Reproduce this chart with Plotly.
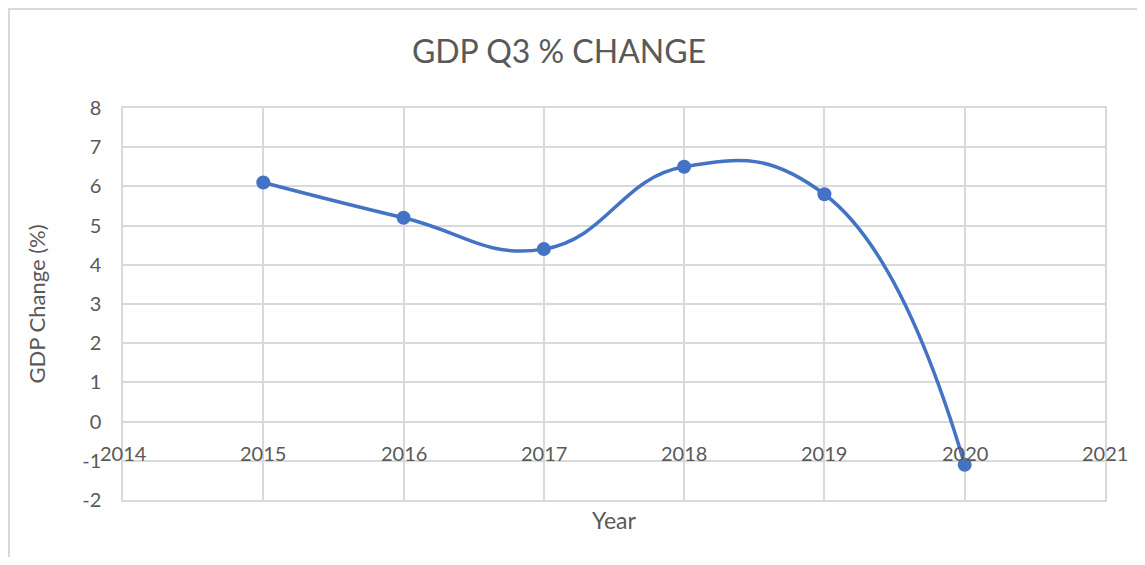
import plotly.graph_objects as go

years = [2015, 2016, 2017, 2018, 2019, 2020]
gdp_change = [6.1, 5.2, 4.4, 6.5, 5.8, -1.1]
x_ticks = [2014, 2015, 2016, 2017, 2018, 2019, 2020, 2021]
y_ticks = [-2, -1, 0, 1, 2, 3, 4, 5, 6, 7, 8]
y_labels = [str(v) for v in y_ticks]

FONT = "Lato"
TXT = "#595959"
GRID = "#d9d9d9"

# page body has an 8px margin; figure sized to fit the window
W, H = 1129, 549
L, T, PW, PH = 115, 100, 982, 392

fig = go.Figure()
fig.add_trace(go.Scatter(
    x=years, y=gdp_change, mode="lines+markers",
    line=dict(color="#4472C4", width=3.5, shape="spline", smoothing=1.3),
    marker=dict(color="#4472C4", size=14),
    showlegend=False, cliponaxis=False,
))

for yr in x_ticks:
    fig.add_annotation(x=yr, y=0, xref="x", yref="y", text=str(yr),
                       showarrow=False, yanchor="middle", yshift=-31,
                       font=dict(family=FONT, size=20, color=TXT))

fig.update_layout(
    width=W, height=H,
    margin=dict(l=L, r=W - L - PW, t=T, b=H - T - PH),
    paper_bgcolor="white", plot_bgcolor="white",
    title=dict(text="GDP Q3 % CHANGE", x=551 / W, xanchor="center", y=1 - 44 / H, yanchor="middle",
               font=dict(family=FONT, size=32, color=TXT)),
    xaxis=dict(range=[2014, 2021], tickvals=x_ticks, showticklabels=False,
               showgrid=True, gridcolor=GRID, gridwidth=1.5, zeroline=False,
               showline=True, linecolor=GRID, linewidth=1.5, mirror=True,
               title=dict(text="Year", font=dict(family=FONT, size=23, color=TXT), standoff=12)),
    yaxis=dict(range=[-2, 8], tickvals=y_ticks, ticktext=y_labels, showgrid=True, gridcolor=GRID,
               gridwidth=1.5, zeroline=False, showline=True, linecolor=GRID, linewidth=1.5, mirror=True,
               ticks="", ticklabelstandoff=16,
               tickfont=dict(family=FONT, size=20, color=TXT),
               title=dict(text="GDP Change (%)", font=dict(family=FONT, size=22, color=TXT), standoff=31)),
)

# outer chart border (left and top edges visible)
fig.add_shape(type="rect", xref="paper", yref="paper",
              x0=(9 - 123) / PW, x1=(1160 - 123) / PW,
              y0=(500 - 580) / PH, y1=(500 - 9) / PH,
              line=dict(color=GRID, width=2), fillcolor="rgba(0,0,0,0)", layer="below")

fig.write_html("out.html")
